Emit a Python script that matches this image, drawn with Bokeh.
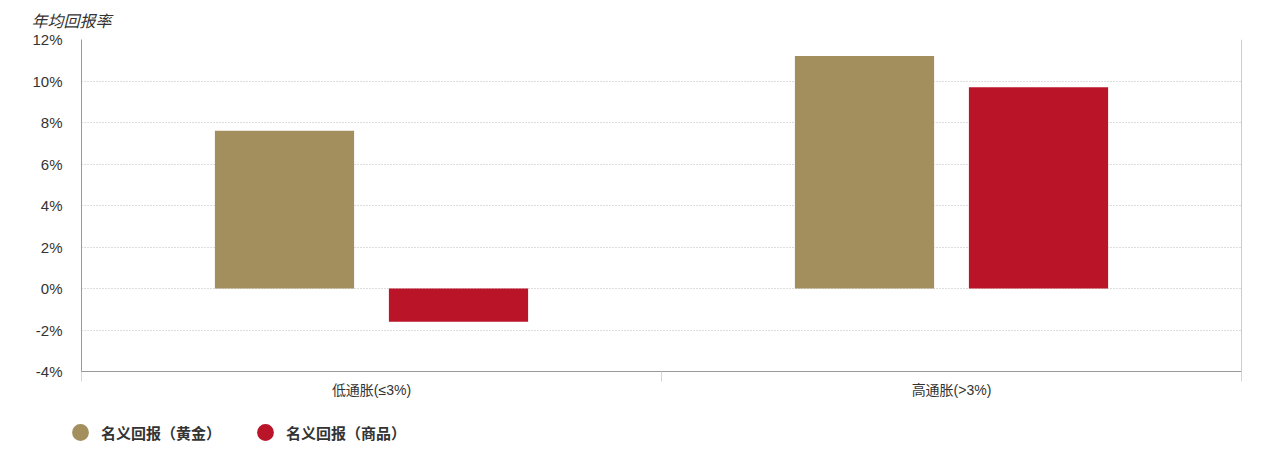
from bokeh.plotting import figure
from bokeh.layouts import column
from bokeh.models import (ColumnDataSource, FixedTicker, NumeralTickFormatter, Span,
                          Legend, LegendItem, Title, Range1d)
from bokeh.transform import dodge
from bokeh.embed import file_html
from bokeh.resources import INLINE

categories = ["低通胀(≤3%)", "高通胀(>3%)"]
gold_returns = [0.076, 0.112]
commodity_returns = [-0.016, 0.097]
series_names = ["名义回报（黄金）", "名义回报（商品）"]
y_ticks = [-0.04, -0.02, 0.0, 0.02, 0.04, 0.06, 0.08, 0.10, 0.12]
axis_title = "年均回报率"

GOLD = "#a38f5e"
RED = "#ba1428"
FONT = "Liberation Sans, Arial, Noto Sans CJK SC"

xpos = [i + 0.5 for i in range(len(categories))]
src = ColumnDataSource(dict(x=xpos, gold=gold_returns, comm=commodity_returns))

W = 1259
p = figure(width=W, height=410, output_backend="svg", toolbar_location=None,
           x_range=Range1d(0, len(categories)), y_range=Range1d(-0.04, 0.12),
           min_border_left=81, min_border_right=18, min_border_top=39, min_border_bottom=39)
p.outline_line_color = None
p.background_fill_color = "white"
p.border_fill_color = "white"

p.vbar(x=dodge("x", -0.15, range=p.x_range), top="gold", bottom=0, width=0.24,
       source=src, fill_color=GOLD, line_color=None)
p.vbar(x=dodge("x", 0.15, range=p.x_range), top="comm", bottom=0, width=0.24,
       source=src, fill_color=RED, line_color=None)

# y axis
yax = p.yaxis[0]
yax.ticker = FixedTicker(ticks=y_ticks)
yax.formatter = NumeralTickFormatter(format="0%")
yax.major_tick_line_color = None
yax.major_tick_out = 0
yax.minor_tick_line_color = None
yax.axis_line_color = "#999999"
yax.major_label_text_font = FONT
yax.major_label_text_font_size = "15px"
yax.major_label_text_color = "#333333"
yax.major_label_standoff = 19

# x axis
xax = p.xaxis[0]
xax.ticker = FixedTicker(ticks=xpos, minor_ticks=[0, 1, 2])
xax.major_label_overrides = {x: c for x, c in zip(xpos, categories)}
xax.major_tick_line_color = None
xax.major_tick_out = 0
xax.minor_tick_line_color = "#ccd6eb"
xax.minor_tick_out = 10
xax.minor_tick_in = 0
xax.axis_line_color = "#999999"
xax.major_label_text_font = FONT
xax.major_label_text_font_size = "14px"
xax.major_label_text_color = "#333333"
xax.major_label_standoff = 0

# right frame line
p.add_layout(Span(location=len(categories), dimension="height", line_color="#999999", line_width=1))

p.xgrid.grid_line_color = None
p.ygrid.ticker = FixedTicker(ticks=y_ticks)
p.ygrid.grid_line_color = "#bbbbbb"
p.ygrid.grid_line_dash = "1 2"
p.ygrid.grid_line_width = 1

# title
t = Title(text=axis_title, align="left", offset=-50, text_font=FONT,
          text_font_style="italic", text_font_size="16px", text_color="#333333",
          standoff=20)
p.add_layout(t, "above")

# legend figure
lf = figure(width=W, height=46, output_backend="svg", toolbar_location=None,
            x_range=Range1d(0, 1), y_range=Range1d(0, 1),
            x_axis_location=None, y_axis_location=None,
            min_border=0, min_border_left=0, min_border_right=0,
            outline_line_color=None)
lf.grid.visible = False
lf.background_fill_color = "white"
lf.border_fill_color = "white"
lg1 = lf.scatter(x=[0.5], y=[0.5], marker="circle", size=17, fill_color=GOLD, line_color=None, visible=False)
lg2 = lf.scatter(x=[0.5], y=[0.5], marker="circle", size=17, fill_color=RED, line_color=None, visible=False)
legend = Legend(items=[LegendItem(label=series_names[0], renderers=[lg1]),
                       LegendItem(label=series_names[1], renderers=[lg2])],
                orientation="horizontal", location=(59, 3),
                label_text_font=FONT, label_text_font_size="15px",
                label_text_font_style="bold", label_text_color="#333333",
                border_line_color=None, background_fill_alpha=0,
                glyph_width=42, glyph_height=42, label_standoff=0, spacing=23,
                margin=0, padding=0)
lf.add_layout(legend, "center")

layout = column(p, column(lf, spacing=0), spacing=0)
open("out.html", "w").write(file_html(layout, INLINE))
